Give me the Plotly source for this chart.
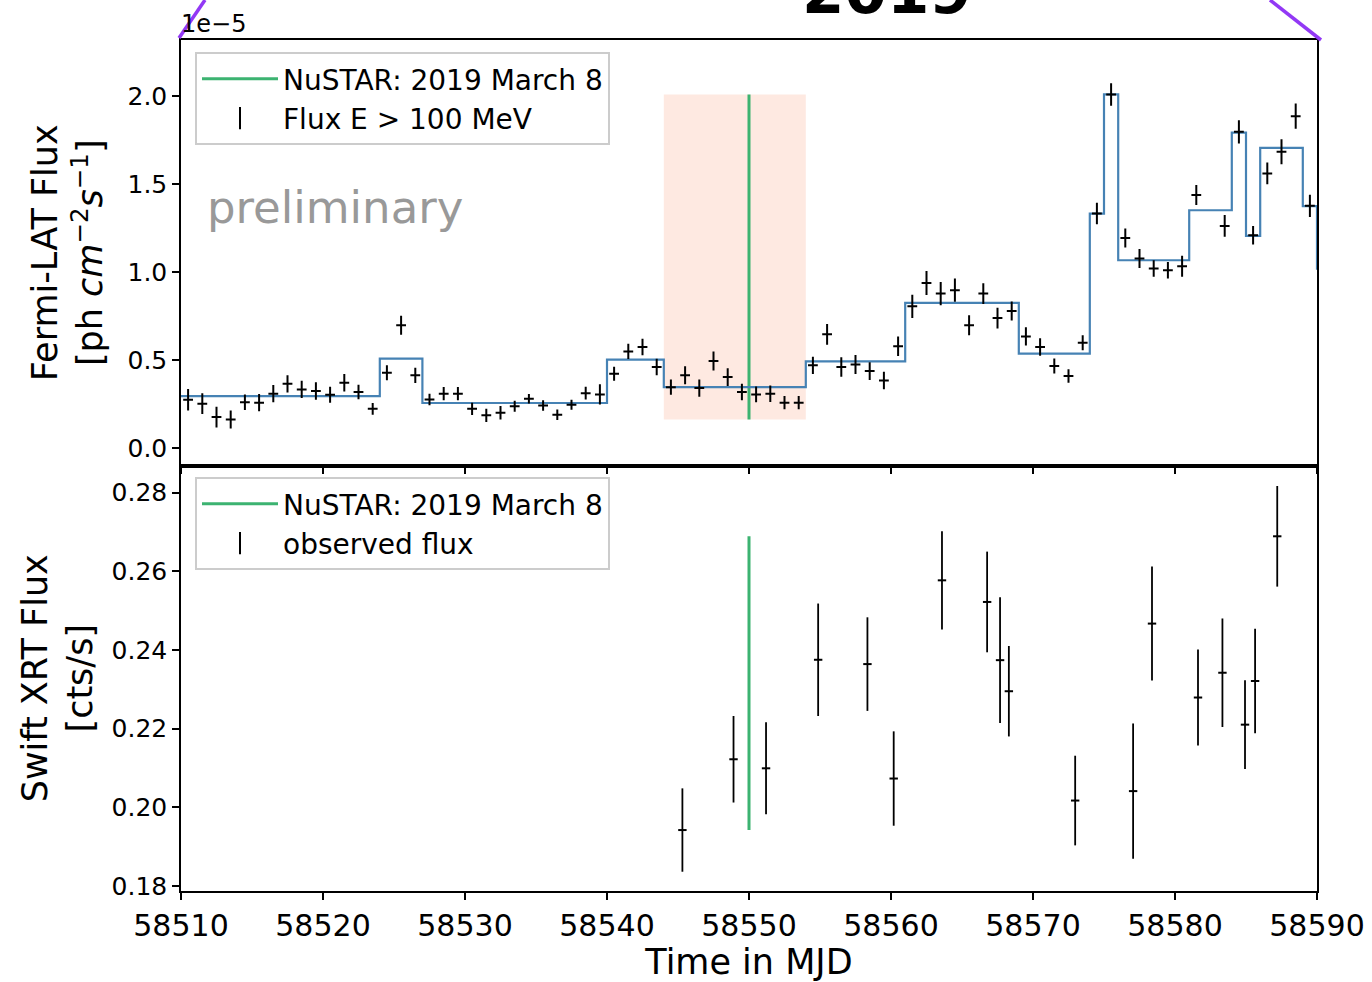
import plotly.graph_objects as go
from plotly.subplots import make_subplots

# ---------------- data ----------------
# Fermi-LAT daily fluxes (1e-5 ph cm^-2 s^-1), day index i -> MJD 58510.5 + i
fermi_mjd = [58510.5 + i for i in range(80) if i != 72]
fermi_flux = [0.277, 0.254, 0.178, 0.165, 0.263, 0.260, 0.311, 0.367, 0.335, 0.326,
              0.305, 0.373, 0.320, 0.225, 0.430, 0.699, 0.415, 0.278, 0.311, 0.311,
              0.225, 0.188, 0.203, 0.240, 0.282, 0.244, 0.191, 0.248, 0.314, 0.307,
              0.424, 0.551, 0.576, 0.462, 0.348, 0.415, 0.343, 0.496, 0.405, 0.320,
              0.307, 0.311, 0.260, 0.260, 0.472, 0.648, 0.462, 0.477, 0.439, 0.386,
              0.580, 0.807, 0.939, 0.879, 0.898, 0.699, 0.879, 0.740, 0.780, 0.636,
              0.576, 0.468, 0.411, 0.600, 1.333, 2.009, 1.195, 1.078, 1.021, 1.011,
              1.034, 1.438, 1.263, 1.797, 1.210, 1.561, 1.684, 1.886, 1.377]
fermi_err = [0.061, 0.059, 0.059, 0.051, 0.044, 0.049, 0.049, 0.049, 0.049, 0.050,
             0.045, 0.050, 0.041, 0.033, 0.043, 0.054, 0.043, 0.033, 0.038, 0.038,
             0.035, 0.038, 0.038, 0.031, 0.027, 0.030, 0.030, 0.028, 0.036, 0.057,
             0.040, 0.043, 0.047, 0.047, 0.043, 0.051, 0.049, 0.054, 0.050, 0.047,
             0.045, 0.047, 0.038, 0.038, 0.049, 0.059, 0.055, 0.054, 0.050, 0.050,
             0.055, 0.066, 0.068, 0.066, 0.066, 0.057, 0.059, 0.059, 0.054, 0.052,
             0.050, 0.043, 0.038, 0.043, 0.061, 0.064, 0.054, 0.054, 0.047, 0.047,
             0.059, 0.057, 0.062, 0.066, 0.052, 0.062, 0.071, 0.071, 0.063]

# Bayesian-block light curve
block_edges = [58509, 58524, 58527, 58540, 58544, 58554, 58561, 58569, 58574,
               58575, 58576, 58581, 58584, 58585, 58586, 58589, 58590, 58592]
block_flux = [0.297, 0.510, 0.258, 0.504, 0.348, 0.494, 0.826, 0.538, 1.333,
              2.009, 1.068, 1.352, 1.792, 1.207, 1.706, 1.375, 1.020]

# Swift XRT
xrt_mjd = [58545.31, 58548.91, 58551.20, 58554.87, 58558.34, 58560.19, 58563.59,
           58566.77, 58567.68, 58568.30, 58572.97, 58577.05, 58578.38, 58581.62,
           58583.34, 58584.93, 58585.64, 58587.20]
xrt_flux = [0.1942, 0.2122, 0.2099, 0.2375, 0.2364, 0.2073, 0.2577, 0.2522, 0.2374,
            0.2295, 0.2017, 0.2041, 0.2467, 0.2279, 0.2342, 0.2210, 0.2321, 0.2689]
xrt_err = [0.0106, 0.0110, 0.0117, 0.0143, 0.0119, 0.0120, 0.0125, 0.0128, 0.0160,
           0.0115, 0.0114, 0.0172, 0.0145, 0.0122, 0.0138, 0.0113, 0.0133, 0.0128]

nustar_mjd = 58550
shade_range = [58544, 58554]

x_ticks = [58510, 58520, 58530, 58540, 58550, 58560, 58570, 58580, 58590]
top_ticks = [0.0, 0.5, 1.0, 1.5, 2.0]
bot_ticks = [0.18, 0.20, 0.22, 0.24, 0.26, 0.28]

# ---------------- style ----------------
FONT = "DejaVu Sans"
GREEN = "#3cb371"
BLUE = "#4682b4"
SHADE = "#fee9e1"
PURPLE = "#9238f5"

W, H = 1372, 982
L, R, T, B = 181, 55, 40, 91
PW, PH = W - L - R, H - T - B


def px(xp):
    return (xp - L) / PW


def py(yp):
    return 1 - (yp - T) / PH


fig = make_subplots(rows=2, cols=1, shared_xaxes=True, vertical_spacing=0)

fmin, fmax = min(fermi_flux), max(fermi_flux)
xmin, xmax = min(xrt_flux), max(xrt_flux)

# shaded NuSTAR window
fig.add_shape(type="rect", xref="x", yref="y", x0=shade_range[0], x1=shade_range[1],
              y0=fmin, y1=fmax, fillcolor=SHADE, line_width=0, layer="below")

# top panel
fig.add_trace(go.Scatter(x=[nustar_mjd, nustar_mjd], y=[fmin, fmax], mode="lines",
                         line=dict(color=GREEN, width=3), name="NuSTAR: 2019 March 8",
                         legend="legend"), row=1, col=1)
fig.add_trace(go.Scatter(x=block_edges, y=block_flux + [block_flux[-1]], mode="lines",
                         line=dict(color=BLUE, width=2.2, shape="hv"), showlegend=False),
              row=1, col=1)
fig.add_trace(go.Scatter(x=fermi_mjd, y=fermi_flux, mode="markers",
                         marker=dict(symbol="line-ew", size=7, line=dict(color="black", width=2)),
                         error_y=dict(type="data", array=fermi_err, color="black",
                                      thickness=2, width=0),
                         showlegend=False), row=1, col=1)
fig.add_trace(go.Scatter(x=[None], y=[None], mode="markers", name="Flux E > 100 MeV",
                         marker=dict(symbol="line-ns", size=16, line=dict(color="black", width=2)),
                         legend="legend"), row=1, col=1)

# bottom panel
fig.add_trace(go.Scatter(x=[nustar_mjd, nustar_mjd], y=[xmin, xmax], mode="lines",
                         line=dict(color=GREEN, width=3), name="NuSTAR: 2019 March 8",
                         legend="legend2"), row=2, col=1)
fig.add_trace(go.Scatter(x=xrt_mjd, y=xrt_flux, mode="markers",
                         marker=dict(symbol="line-ew", size=6, line=dict(color="black", width=2)),
                         error_y=dict(type="data", array=xrt_err, color="black",
                                      thickness=1.8, width=0),
                         showlegend=False), row=2, col=1)
fig.add_trace(go.Scatter(x=[None], y=[None], mode="markers", name="observed flux",
                         marker=dict(symbol="line-ns", size=16, line=dict(color="black", width=2)),
                         legend="legend2"), row=2, col=1)

axis_common = dict(showline=True, linecolor="black", linewidth=1.5, mirror=True,
                   ticks="outside", ticklen=7, tickwidth=1.5, tickcolor="black",
                   showgrid=False, zeroline=False, automargin=False)

fig.update_xaxes(range=[58510, 58590], tickvals=x_ticks, tickformat="d", **axis_common)
fig.update_xaxes(showticklabels=False, row=1, col=1)
fig.update_xaxes(tickfont=dict(size=30, family=FONT, color="black"),
                 title=dict(text="Time in MJD", font=dict(size=35, family=FONT, color="black"),
                            standoff=4), row=2, col=1)

fig.update_yaxes(range=[-0.0966, 2.318], tickvals=top_ticks, tickformat=".1f",
                 tickfont=dict(size=25, family=FONT, color="black"),
                 title=dict(text="Fermi-LAT Flux<br>[ph <i>cm</i><sup>−2</sup><i>s</i><sup>−1</sup>]",
                            font=dict(size=35, family=FONT, color="black"), standoff=14),
                 row=1, col=1, **axis_common)
fig.update_yaxes(range=[0.1787, 0.2869], tickvals=bot_ticks, tickformat=".2f",
                 tickfont=dict(size=25, family=FONT, color="black"),
                 title=dict(text="Swift XRT Flux<br>[cts/s]",
                            font=dict(size=35, family=FONT, color="black"), standoff=8),
                 row=2, col=1, **axis_common)

legend_common = dict(bgcolor="white", bordercolor="#cccccc", borderwidth=2,
                     font=dict(size=28, family=FONT, color="black"),
                     xanchor="left", yanchor="top", tracegroupgap=0, itemwidth=76)

fig.update_layout(
    width=W, height=H,
    margin=dict(l=L, r=R, t=T, b=B, autoexpand=False),
    paper_bgcolor="white", plot_bgcolor="white",
    font=dict(family=FONT, color="black"),
    legend=dict(x=px(195), y=py(52), **legend_common),
    legend2=dict(x=px(195), y=py(477), **legend_common),
)

# annotations
fig.add_annotation(text="preliminary", xref="paper", yref="paper", x=px(205), y=py(208),
                   xanchor="left", yanchor="middle", showarrow=False,
                   font=dict(size=45, family=FONT, color="#999999"))
fig.add_annotation(text="1e−5", xref="paper", yref="paper", x=px(179), y=py(24),
                   xanchor="left", yanchor="middle", showarrow=False,
                   font=dict(size=24, family=FONT, color="black"))
fig.add_annotation(text="<b>2019</b>", xref="paper", yref="paper", x=px(887), y=py(-8),
                   xanchor="center", yanchor="middle", showarrow=False,
                   font=dict(size=61, family=FONT, color="black"))

# purple slide-annotation lines
fig.add_shape(type="line", xref="paper", yref="paper", x0=px(179), y0=py(38),
              x1=px(205), y1=py(0), line=dict(color=PURPLE, width=3.5))
fig.add_shape(type="line", xref="paper", yref="paper", x0=px(1270), y0=py(0),
              x1=px(1321), y1=py(40), line=dict(color=PURPLE, width=3.5))

fig.write_html("out.html")
